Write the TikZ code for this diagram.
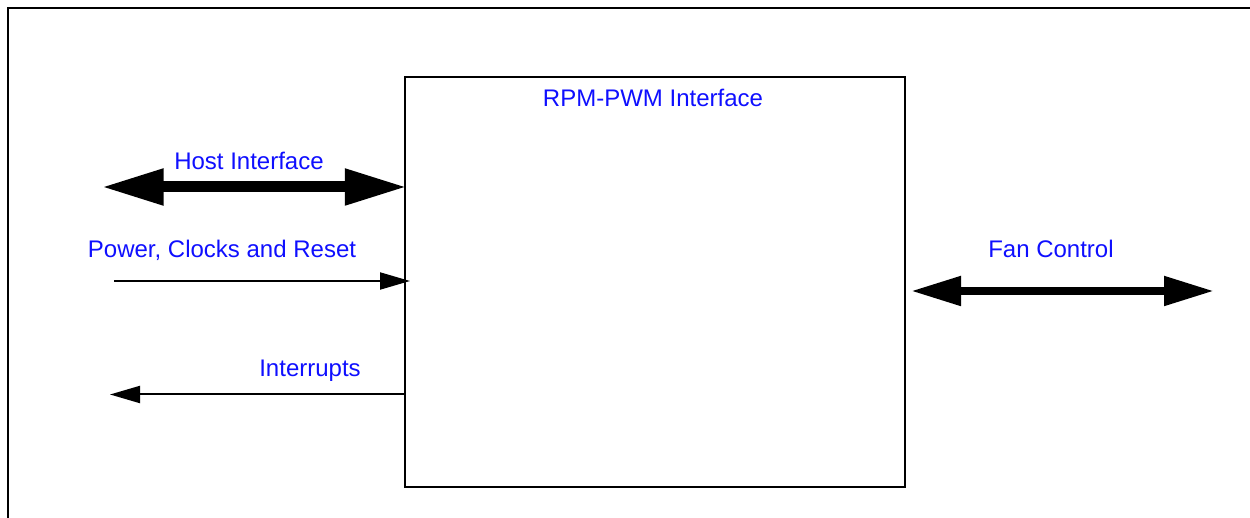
\documentclass[tikz,border=0pt]{standalone}
\usepackage{fontspec}
\setmainfont{Liberation Sans}
\usetikzlibrary{arrows.meta}
\definecolor{lblblue}{RGB}{15,15,255}
\tikzset{
  lbl/.style={text=lblblue, anchor=base, inner sep=0pt, font=\fontsize{12pt}{14pt}\selectfont},
  bigarrow/.style={line width=5.5pt, {Triangle[length=31pt,width=17pt]}-{Triangle[length=31pt,width=17pt]}},
  fanarrow/.style={line width=4pt, {Triangle[length=25pt,width=14pt]}-{Triangle[length=25pt,width=14pt]}},
  thinarrow/.style={line width=1pt, -{Triangle[length=15pt,width=8.5pt]}},
  frameline/.style={line width=1.15pt}
}
\begin{document}
\begin{tikzpicture}[x=0.5pt,y=-0.5pt]
\useasboundingbox (0,0) rectangle (1250,518);
% outer frame (top and left edges visible)
\coordinate (fTR) at (1252,8);
\coordinate (fTL) at (8,8);
\coordinate (fBL) at (8,520);
\draw[frameline, line join=miter] (fTR) -- (fTL) -- (fBL);
% main block
\node[draw, line width=1.15pt, inner sep=0pt, outer sep=0pt, minimum width=250pt, minimum height=204.7pt, anchor=north west] (box) at (405.3,77.3) {};
\node[lbl] (title) at (653,106.7) {RPM-PWM Interface};
% host interface
\coordinate (hostL) at (101.5,187);
\draw[bigarrow] (hostL) -- ([xshift=0.8pt]box.west |- hostL);
\node[lbl] (hostlbl) at (249,170) {Host Interface};
% power, clocks and reset
\coordinate (pwrL) at (114,281);
\coordinate (pwrR) at (410,281);
\draw[thinarrow] (pwrL) -- (pwrR);
\node[lbl] (pwrlbl) at (222,257.3) {Power, Clocks and Reset};
% interrupts
\coordinate (intL) at (110,394.5);
\draw[thinarrow] (box.west |- intL) -- (intL);
\node[lbl] (intlbl) at (310,376.7) {Interrupts};
% fan control
\coordinate (fanL) at (911,291);
\coordinate (fanR) at (1214,291);
\draw[fanarrow] (fanL) -- (fanR);
\node[lbl] (fanlbl) at (1051,257.3) {Fan Control};
\end{tikzpicture}
\end{document}
